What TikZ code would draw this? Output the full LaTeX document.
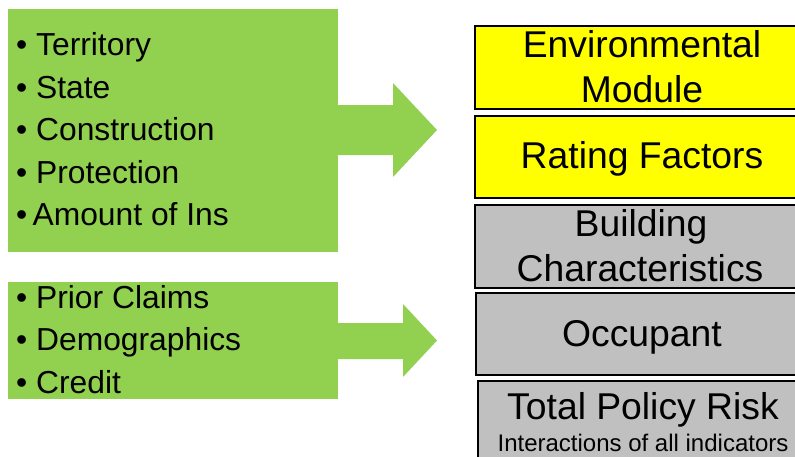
\documentclass[tikz,border=0pt]{standalone}
\usepackage{fontspec}
\setmainfont{Liberation Sans}
\begin{document}
\begin{tikzpicture}[x=1pt,y=-1pt,
  greenfill/.style={fill=leaf,draw=none},
  item/.style={anchor=base west,inner sep=0pt,font=\fontsize{31.8}{38}\selectfont},
  stackbox/.style={draw=black,line width=2pt,anchor=north west,inner sep=0pt},
  boxtext/.style={anchor=base,inner sep=0pt,font=\fontsize{37.3}{44}\selectfont},
  smalltext/.style={anchor=base,inner sep=0pt,font=\fontsize{24}{29}\selectfont}]
\definecolor{leaf}{HTML}{92D050}
\definecolor{signal}{HTML}{FFFF00}
\definecolor{stone}{HTML}{C0C0C0}
\useasboundingbox (0,0) rectangle (795,456);

% input panels with their arrows
\node[greenfill,anchor=north west,minimum width=330pt,minimum height=243pt,inner sep=0pt] (inA) at (8,9) {};
\fill[leaf] (337,105) -- (393,105) -- (393,83) -- (437,130) -- (393,177) -- (393,155) -- (337,155) -- cycle;
\node[greenfill,anchor=north west,minimum width=330pt,minimum height=117pt,inner sep=0pt] (inB) at (8,282) {};
\fill[leaf] (337,323) -- (403,323) -- (403,304) -- (437,340.5) -- (403,377) -- (403,359) -- (337,359) -- cycle;

\node[item] (t1) at (16,55) {• Territory};
\node[item] (t2) at (16,98) {• State};
\node[item] (t3) at (16,140) {• Construction};
\node[item] (t4) at (16,183) {• Protection};
\node[item] (t5) at (16,225) {•\,Amount of Ins};
\node[item] (b1) at (16,308) {• Prior Claims};
\node[item] (b2) at (16,350) {• Demographics};
\node[item] (b3) at (16,393) {• Credit};

% stacked risk layers
\node[stackbox,fill=signal,minimum width=340pt,minimum height=83pt] (env) at (474,25) {};
\node[stackbox,fill=signal,minimum width=340pt,minimum height=82pt] (rate) at (474,115) {};
\node[stackbox,fill=stone,minimum width=340pt,minimum height=83pt] (bldg) at (474,204) {};
\node[stackbox,fill=stone,minimum width=340pt,minimum height=82pt] (occ) at (475,292) {};
\node[stackbox,fill=stone,minimum width=340pt,minimum height=100pt] (tot) at (477,380) {};

\node[boxtext] (envA) at (642,57) {Environmental};
\node[boxtext] (envB) at (642,102) {Module};
\node[boxtext] (rateT) at (642,168) {Rating Factors};
\node[boxtext] (bldgA) at (641,236) {Building};
\node[boxtext] (bldgB) at (640,281) {Characteristics};
\node[boxtext] (occT) at (642,346) {Occupant};
\node[boxtext] (totT) at (643,419) {Total Policy Risk};
\node[smalltext] (totS) at (643,451) {Interactions of all indicators};
\end{tikzpicture}
\end{document}
